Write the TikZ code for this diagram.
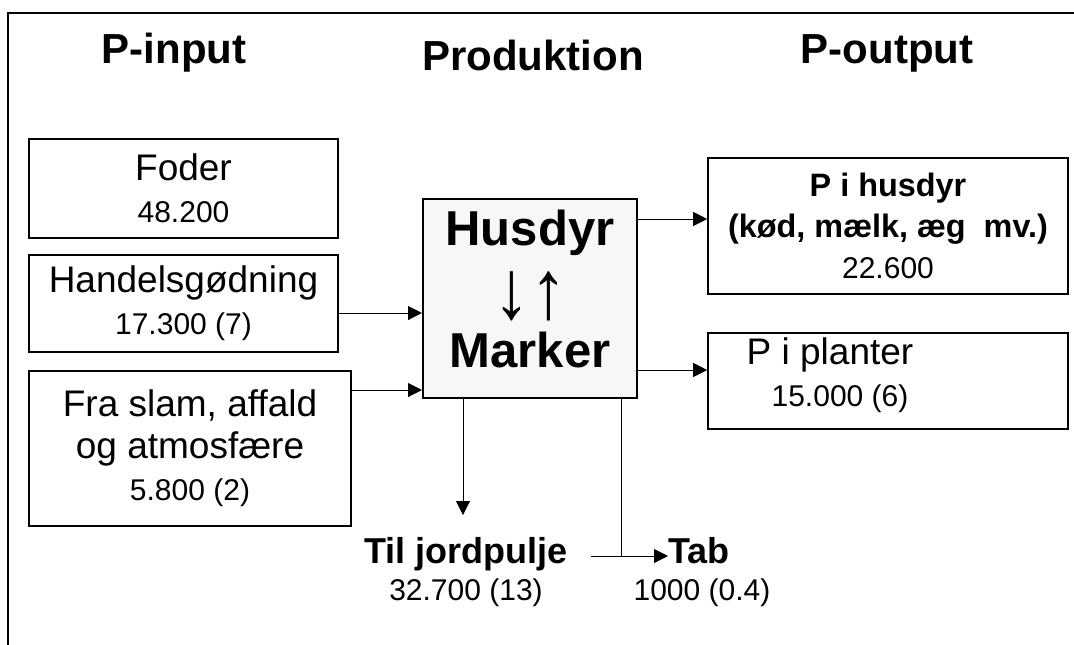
\documentclass[tikz,border=0pt]{standalone}
\usepackage{fontspec}
\setmainfont{Liberation Sans}
\usetikzlibrary{arrows.meta, positioning}

\newcommand{\amt}[1]{{\mdseries\fontsize{15pt}{21pt}\selectfont #1}}

\begin{document}
\begin{tikzpicture}[
    x=0.5pt, y=-0.5pt,
    >={Triangle[length=7pt, width=7pt]},
    flow/.style={->, line width=0.5pt},
    box/.style={
      draw, line width=0.8pt, align=center, inner sep=0pt,
      font=\fontsize{18.5pt}{21pt}\selectfont
    },
    head/.style={font=\bfseries\fontsize{21pt}{25pt}\selectfont, anchor=base},
    sink/.style={font=\bfseries\fontsize{18pt}{21pt}\selectfont, anchor=base},
    amount/.style={font=\fontsize{15pt}{21pt}\selectfont, anchor=base}
]
    \useasboundingbox (0,0) rectangle (1074,644);
    % outer frame
    \draw[line width=1pt] (8,660) -- (8,13) -- (1090,13);

    % Headings
    \node[head] (pin) at (174,63) {P-input};
    \node[head] (prod) at (533,70) {Produktion};
    \node[head] (pout) at (887,63) {P-output};

    % Input boxes
    \node[box, minimum width=154.5pt, minimum height=49.5pt] (foder) at (183.5,188.5) {Foder\\\amt{48.200}};
    \node[box, minimum width=154.5pt, minimum height=48.5pt] (handel) at (183.5,303.5) {Handelsgødning\\\amt{17.300 (7)}};
    \node[box, minimum width=161pt, minimum height=77.5pt] (slam) at (190,448.5) {Fra slam, affald\\og atmosfære\\\amt{5.800 (2)}};

    % Production box
    \node[draw, line width=1pt, fill=black!3,
      minimum width=107pt, minimum height=99.5pt] (husdyr) at (530,298.5) {};
    \node[align=center, font=\bfseries\fontsize{24.5pt}{30.5pt}\selectfont] (husdyrtext) at (530,289)
      {Husdyr\\{\mdseries\smash{\raisebox{-6pt}{\scalebox{1.5}[1.7]{↓↑}}}}\\Marker};

    % Output boxes
    \node[box, minimum width=180pt, minimum height=68pt,
      font=\bfseries\fontsize{16.2pt}{20.5pt}\selectfont] (meat) at (888,226)
      {P i husdyr\\(kød, mælk, æg~~mv.)\\\amt{22.600}};
    \node[box, minimum width=180pt, minimum height=48pt] (plant) at (888,381) {};
    \node[align=center, font=\fontsize{18.5pt}{21pt}\selectfont] (planttext) at (830,375) {P i planter\\\amt{\hspace*{10pt}15.000 (6)}};

    % Sinks
    \node[sink] (jord) at (466,563) {Til jordpulje};
    \node[amount] (jordval) at (466,600) {32.700 (13)};
    \node[sink, anchor=base west, inner sep=0pt] (tab) at (668,563) {Tab};
    \node[amount] (tabval) at (702,600) {1000 (0.4)};

    % Connector levels
    \coordinate (in1) at (0,313);
    \coordinate (in2) at (0,390);
    \coordinate (out1) at (0,219);
    \coordinate (out2) at (0,370);
    \coordinate (drop) at (463,515);
    \coordinate (split) at (621,556);
    \coordinate (stub) at (591,556);

    % Flows
    \draw[flow] (handel.east |- in1) -- (husdyr.west |- in1);
    \draw[flow] (slam.east |- in2) -- (husdyr.west |- in2);
    \draw[flow] (husdyr.east |- out1) -- (meat.west |- out1);
    \draw[flow] (husdyr.east |- out2) -- (plant.west |- out2);
    \draw[flow] (husdyr.south -| drop) -- (drop);
    \draw[line width=0.5pt] (husdyr.south -| split) -- (split);
    \draw[flow] (stub) -- (split -| tab.west);
\end{tikzpicture}
\end{document}
